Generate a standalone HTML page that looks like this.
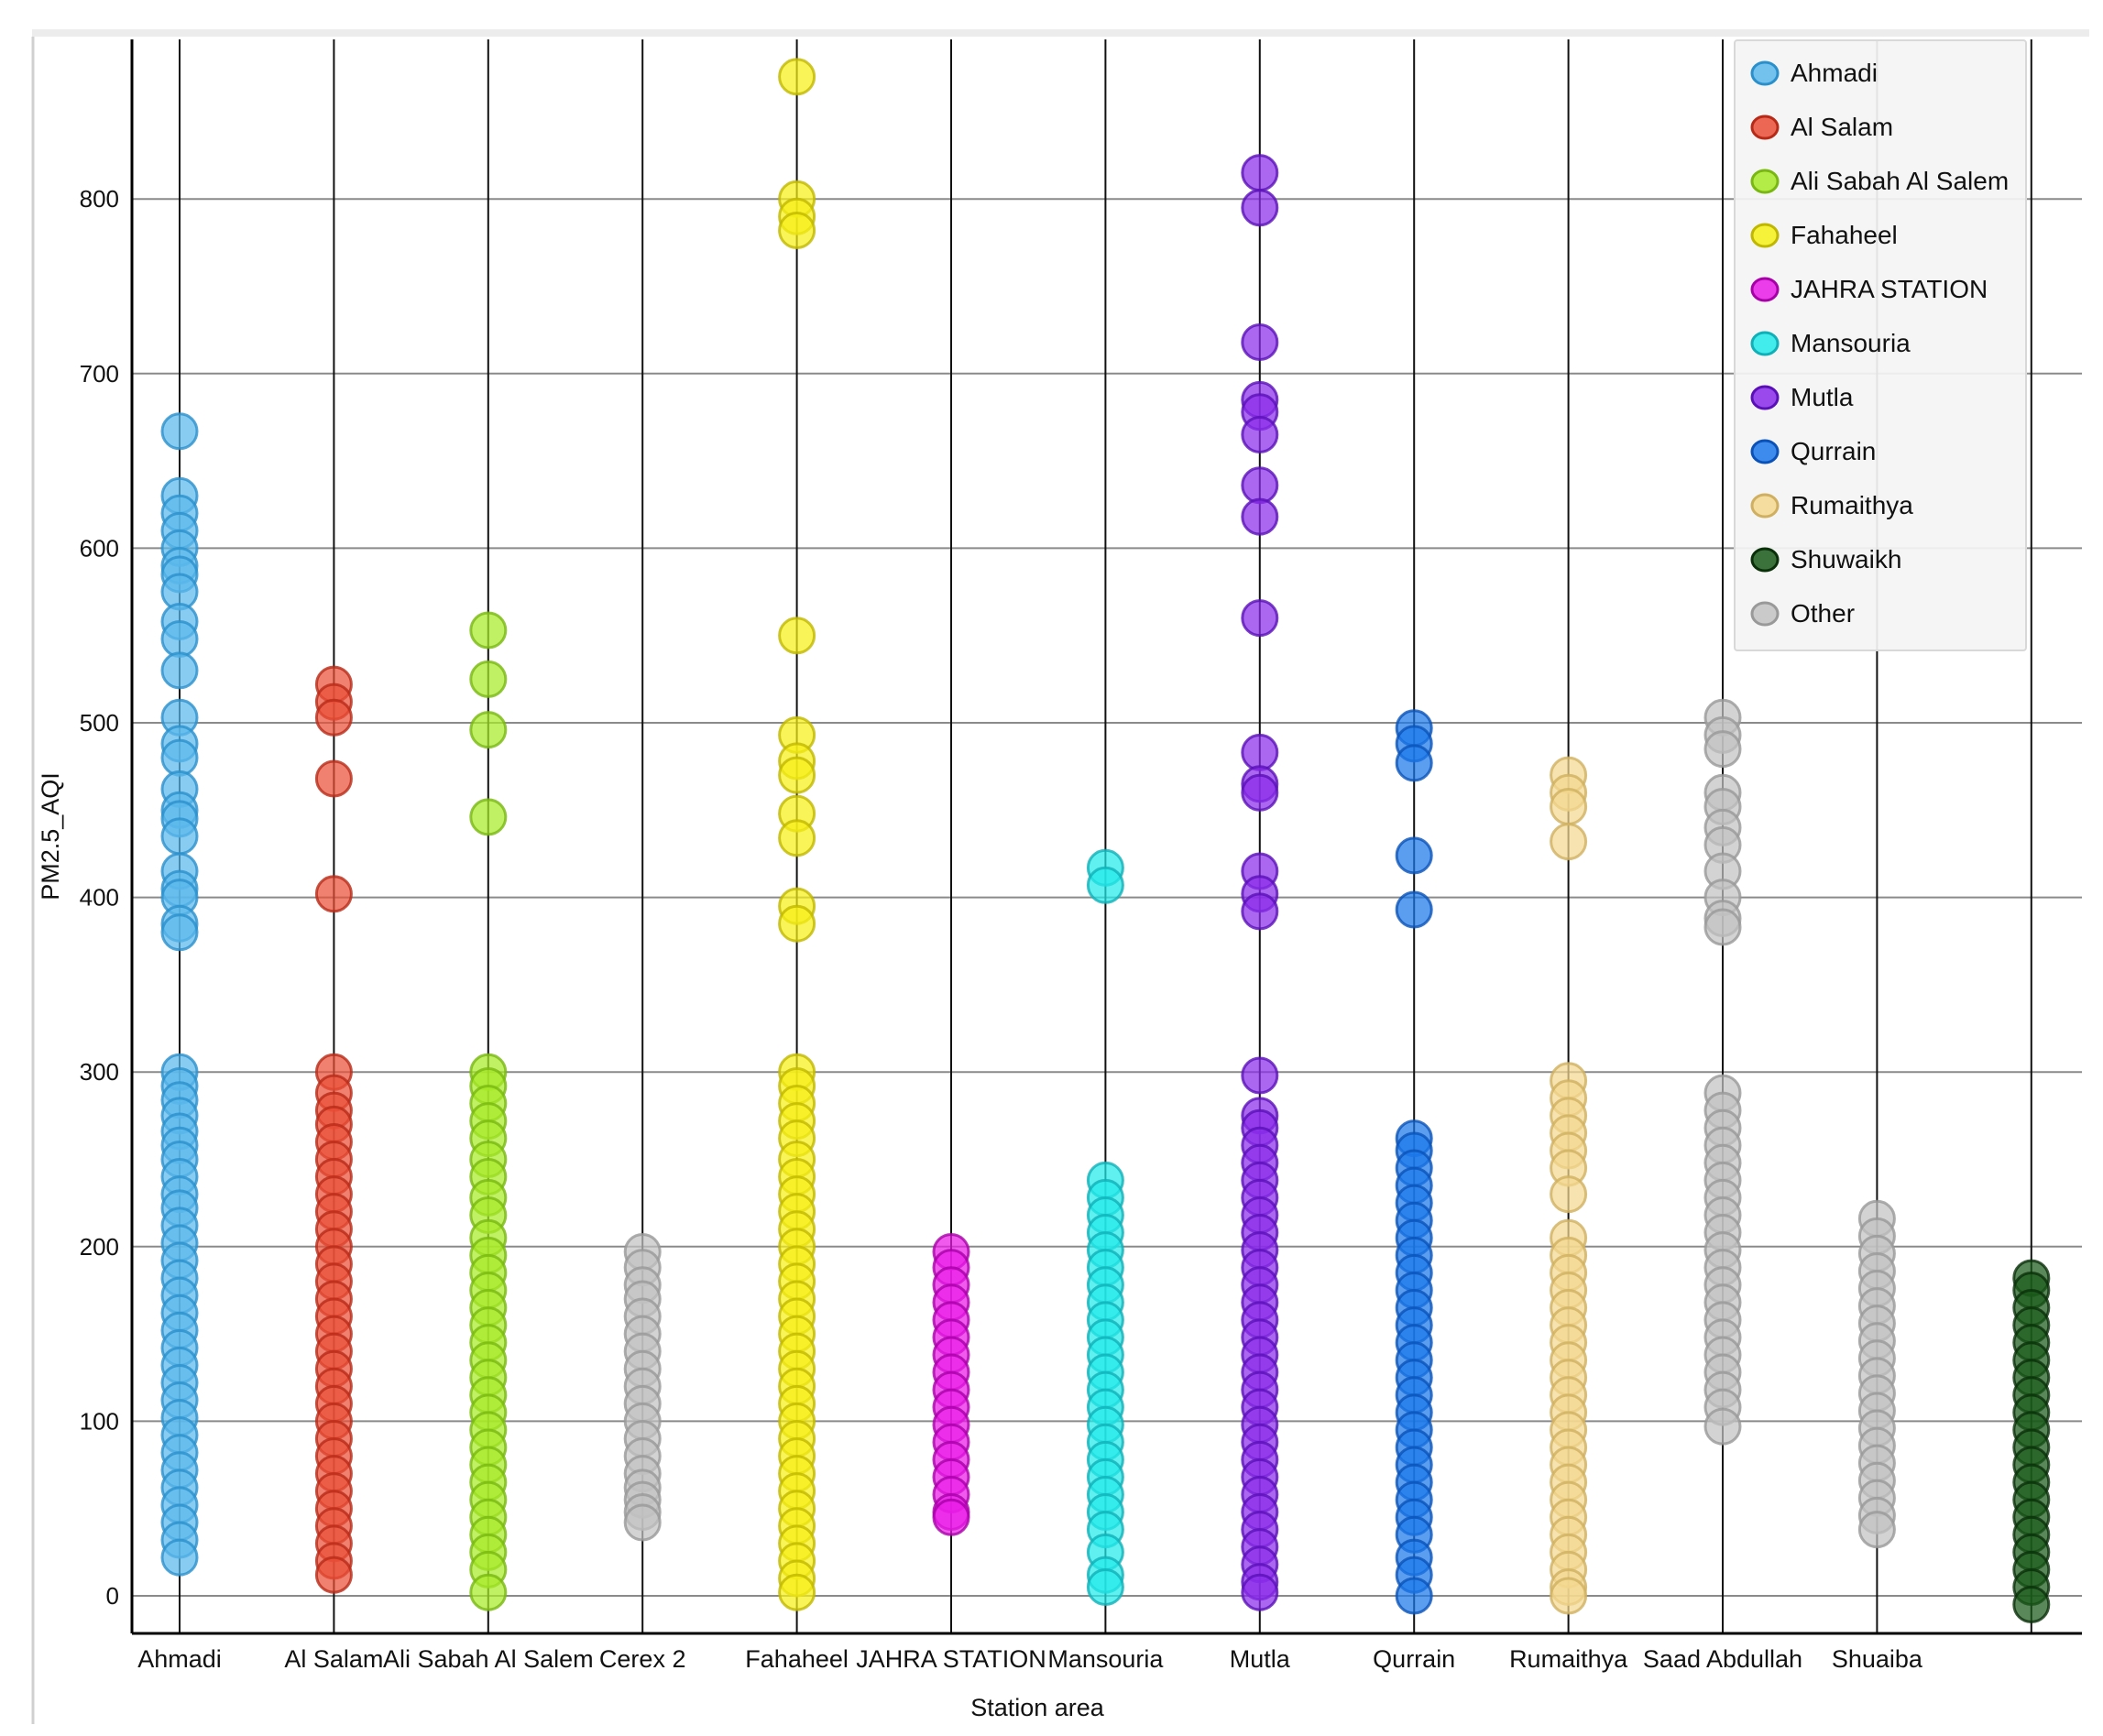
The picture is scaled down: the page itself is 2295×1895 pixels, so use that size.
<!DOCTYPE html>
<html><head><meta charset="utf-8"><style>
html,body{margin:0;padding:0;background:#fff;}
svg{display:block;font-family:"Liberation Sans",sans-serif;}
</style></head><body>
<svg id="chart" width="2295" height="1895" viewBox="0 0 2295 1895" xmlns="http://www.w3.org/2000/svg">
<rect x="35" y="32" width="2245" height="8" fill="#ececec"/>
<line x1="36" y1="40" x2="36" y2="1882" stroke="#d0d0d0" stroke-width="3"/>
<g id="grid"></g><g id="marks"></g><g id="axes"></g><g id="legend"></g>
<text x="1132" y="1873" font-size="27" text-anchor="middle" fill="#111">Station area</text>
<text x="0" y="0" font-size="27" text-anchor="middle" fill="#111" transform="translate(64,913) rotate(-90)">PM2.5_AQI</text>
</svg>
<script>
const categories = ["Ahmadi","Al Salam","Ali Sabah Al Salem","Cerex 2","Fahaheel","JAHRA STATION","Mansouria","Mutla","Qurrain","Rumaithya","Saad Abdullah","Shuaiba","Shuwaikh"];
const yTicks = [0,100,200,300,400,500,600,700,800];
const legendLabels = ["Ahmadi","Al Salam","Ali Sabah Al Salem","Fahaheel","JAHRA STATION","Mansouria","Mutla","Qurrain","Rumaithya","Shuwaikh","Other"];
const seriesKey = ["Ahmadi","Al Salam","Ali Sabah Al Salem","Other","Fahaheel","JAHRA STATION","Mansouria","Mutla","Qurrain","Rumaithya","Other","Other","Shuwaikh"];
const valsAhmadi = [667,630,620,610,600,590,585,575,558,548,530,503,488,480,462,450,445,435,415,405,400,385,380,300,292,284,275,266,258,250,240,230,222,212,202,192,182,172,162,152,142,132,122,112,102,92,82,72,62,52,42,32,22];
const valsAlSalam = [522,512,503,468,402,300,288,278,270,260,250,240,230,220,210,200,190,180,170,160,150,140,130,120,110,100,90,80,70,60,50,40,30,20,12];
const valsAliSabah = [553,525,496,446,300,292,282,272,262,250,240,228,218,205,195,185,175,165,155,145,135,125,115,105,95,85,75,65,55,45,35,25,15,2];
const valsCerex = [197,188,178,170,160,150,140,130,120,110,100,90,80,70,62,55,48,42];
const valsFahaheel = [870,800,790,782,550,493,478,470,448,434,395,385,300,292,282,272,262,250,240,230,220,210,200,190,180,170,160,150,140,130,120,110,100,90,80,70,60,50,40,30,20,10,2];
const valsJahra = [197,188,178,168,158,148,138,128,118,108,98,88,78,68,58,48,45];
const valsMansouria = [417,407,238,228,218,208,198,188,178,168,158,148,138,128,118,108,98,88,78,68,58,48,38,25,12,5];
const valsMutla = [815,795,718,685,678,665,636,618,560,483,465,460,415,402,392,298,275,268,258,248,238,228,218,208,198,188,178,168,158,148,138,128,118,108,98,88,78,68,58,48,38,28,18,8,2];
const valsQurrain = [497,488,477,424,393,262,255,245,235,225,215,205,195,185,175,165,155,145,135,125,115,105,95,85,75,65,55,45,35,22,12,0];
const valsRumaithya = [470,460,452,432,295,285,275,265,255,245,230,205,195,185,175,165,155,145,135,125,115,105,95,85,75,65,55,45,35,25,15,5,0];
const valsSaad = [503,493,485,460,452,440,430,415,400,388,383,288,278,268,258,248,238,228,218,208,198,188,178,168,158,148,138,128,118,108,97];
const valsShuaiba = [216,206,196,186,176,166,156,146,136,126,116,106,96,86,76,66,56,46,38];
const valsShuwaikh = [182,175,165,155,145,135,125,115,105,95,85,75,65,55,45,35,25,15,5,-5];
const allVals = [valsAhmadi,valsAlSalam,valsAliSabah,valsCerex,valsFahaheel,valsJahra,valsMansouria,valsMutla,valsQurrain,valsRumaithya,valsSaad,valsShuaiba,valsShuwaikh];

const styles = {
 "Ahmadi":["#5cb9ec","#2a90cc"],"Al Salam":["#ea4f38","#b82a18"],"Ali Sabah Al Salem":["#a8ea28","#78b810"],
 "Fahaheel":["#f6f018","#c0b800"],"JAHRA STATION":["#ea1ce8","#a800a8"],"Mansouria":["#22eaea","#10b0b8"],
 "Mutla":["#8a2cea","#5a10b8"],"Qurrain":["#1c78ea","#0a52b8"],"Rumaithya":["#f4d890","#d0b060"],
 "Shuwaikh":["#1a5a1a","#0a300a"],"Other":["#c2c2c2","#999999"]
};
const NS="http://www.w3.org/2000/svg";
const X0=196, DX=168.4, Y0=1742, PX=1.906, LEFT=144, RIGHT=2272, TOP=43, BOT=1783;
const xs=i=>X0+i*DX, ys=v=>Y0-v*PX;
function mk(tag,attrs,parent){const e=document.createElementNS(NS,tag);for(const k in attrs)e.setAttribute(k,attrs[k]);parent.appendChild(e);return e;}
const grid=document.getElementById('grid'),marks=document.getElementById('marks'),axes=document.getElementById('axes'),leg=document.getElementById('legend');
yTicks.forEach(t=>{
 const l=mk('line',{x1:LEFT,x2:RIGHT,y1:ys(t),y2:ys(t),stroke:'#8a8a8a','stroke-width':2},grid);
 
 
 const tx=mk('text',{x:130,y:ys(t)+9,'font-size':26,'text-anchor':'end',fill:'#111'},axes);
 tx.textContent=t;
 
 
});
categories.forEach((c,i)=>{
 const l=mk('line',{x1:xs(i),x2:xs(i),y1:TOP,y2:BOT,stroke:'#111','stroke-width':2},grid);
 
 
 if(i<12){
  const tx=mk('text',{x:xs(i),y:1820,'font-size':27,'text-anchor':'middle',fill:'#111'},axes);
  tx.textContent=c;
  
  
 }
 const st=styles[seriesKey[i]];
 allVals[i].forEach(v=>{
  const p=mk('circle',{cx:xs(i),cy:ys(v),r:19,fill:st[0],'fill-opacity':0.72,stroke:st[1],'stroke-width':3,'stroke-opacity':0.8},marks);
  
  
 });
});
const ax1=mk('line',{x1:LEFT,x2:LEFT,y1:TOP,y2:BOT,stroke:'#000','stroke-width':3},axes);


const ax2=mk('line',{x1:LEFT,x2:RIGHT,y1:BOT,y2:BOT,stroke:'#000','stroke-width':3},axes);


const lb=mk('rect',{x:1893,y:44,width:318,height:666,fill:'#f4f4f4','fill-opacity':0.92,stroke:'#d8d8d8','stroke-width':2,rx:3},leg);


legendLabels.forEach((n,i)=>{
 const y=78+i*59,st=styles[n];
 const g=mk('g',{},leg);
 
 
 mk('ellipse',{cx:1926,cy:y+2,rx:14,ry:12,fill:st[0],'fill-opacity':0.85,stroke:st[1],'stroke-width':3},g);
 const t=mk('text',{x:1954,y:y+11,'font-size':28,fill:'#111'},g);
 t.textContent=n;
});
</script>
</body></html>
